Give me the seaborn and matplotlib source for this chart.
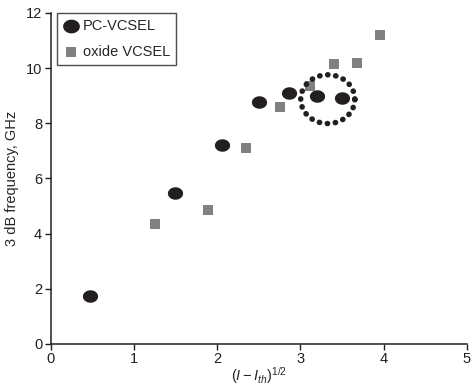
import numpy as np
import pandas as pd
import matplotlib
matplotlib.use('agg')
import matplotlib.pyplot as plt
from matplotlib.path import Path
import seaborn as sns

# data
pc_x = [0.48, 1.49, 2.06, 2.50, 2.87, 3.20, 3.50]
pc_y = [1.75, 5.48, 7.20, 8.77, 9.09, 8.99, 8.91]
ox_x = [1.25, 1.89, 2.35, 2.76, 3.12, 3.40, 3.68, 3.96]
ox_y = [4.36, 4.87, 7.10, 8.59, 9.33, 10.13, 10.17, 11.20]
x_ticks = [0, 1, 2, 3, 4, 5]
y_ticks = [0, 2, 4, 6, 8, 10, 12]

# dotted ring around the last two PC-VCSEL points
ring_center = (3.33, 8.87)
ring_w, ring_h = 0.65, 1.77

sns.set_style('ticks')
plt.rcParams['font.family'] = ['Liberation Sans', 'DejaVu Sans']
plt.rcParams['mathtext.fontset'] = 'custom'
plt.rcParams['mathtext.rm'] = 'Liberation Sans'
plt.rcParams['mathtext.it'] = 'Liberation Sans:italic'

pc = pd.DataFrame({'x': pc_x, 'y': pc_y})
ox = pd.DataFrame({'x': ox_x, 'y': ox_y})

# slightly flattened circle for the PC-VCSEL marker
t = np.linspace(0, 2 * np.pi, 60)
oval = Path(np.column_stack([np.cos(t), 0.82 * np.sin(t)]))

fig = plt.figure(figsize=(4.72, 3.89), dpi=100)
ax = fig.add_axes([0.107, 0.116, 0.882, 0.851])

sns.scatterplot(data=pc, x='x', y='y', ax=ax, marker=oval, s=120,
                color='#231f20', linewidth=0, label='PC-VCSEL', zorder=3)
sns.scatterplot(data=ox, x='x', y='y', ax=ax, marker='s', s=50,
                color='#808082', linewidth=0, label='oxide VCSEL', zorder=3)

a = np.linspace(0, 2 * np.pi, 200)
ax.plot(ring_center[0] + ring_w / 2 * np.cos(a),
        ring_center[1] + ring_h / 2 * np.sin(a),
        color='#231f20', linewidth=4.0, dashes=(0.05, 1.4),
        dash_capstyle='round', zorder=4)

ax.set_xlim(0, 5)
ax.set_ylim(0, 12)
ax.set_xticks(x_ticks)
ax.set_yticks(y_ticks)
ax.tick_params(direction='out', length=4, width=1, labelsize=10.5,
               colors='#231f20', pad=2)
for s in ['left', 'bottom']:
    ax.spines[s].set_linewidth(1.1)
    ax.spines[s].set_color('#231f20')
sns.despine(ax=ax)

ax.set_xlabel(r'$(I - I_{th})^{1/2}$', fontsize=10.5, labelpad=-1)
ax.set_ylabel('3 dB frequency, GHz', fontsize=10.5, labelpad=5)

leg = ax.legend(loc='upper left', bbox_to_anchor=(0.015, 1.0), fontsize=10.5,
                frameon=True, fancybox=False, edgecolor='#231f20',
                borderpad=0.4, handletextpad=0.2, handlelength=1.2,
                labelspacing=0.85, borderaxespad=0, markerscale=1.1)
leg.get_frame().set_linewidth(1.0)

fig.savefig('out.png', dpi=100)
